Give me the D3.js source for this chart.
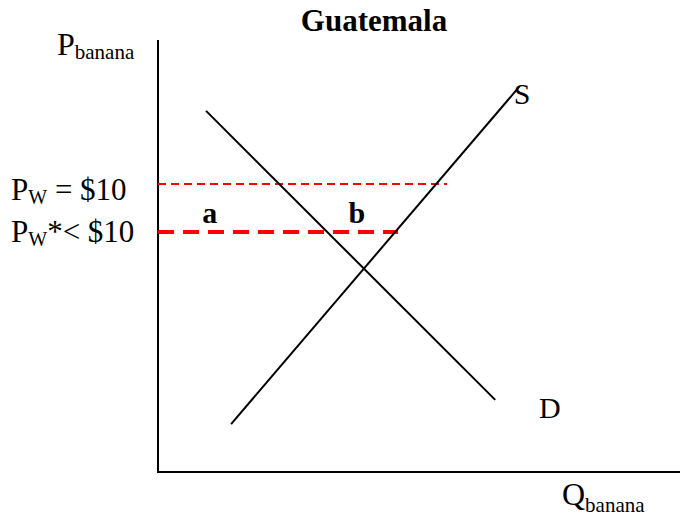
<!DOCTYPE html>
<html>
<head>
<meta charset="utf-8">
<script src="https://cdn.jsdelivr.net/npm/d3@7"></script>
<style>
  html, body { margin: 0; padding: 0; background: #fff; }
  svg { display: block; }
  text { font-family: "Liberation Serif", "Times New Roman", serif; fill: #000; }
</style>
</head>
<body>
<svg id="chart" width="681" height="519"></svg>
<script>
// ---- Data (abstract units, 0–100 on each axis) ----
const title = "Guatemala";
const supplyQ = [14.0, 69.3];
const supplyP = [11.1, 89.3];
const demandQ = [9.2, 64.6];
const demandP = [83.6, 16.7];
const priceLevels = [66.7, 55.6];          // Pw = $10, Pw* < $10
const priceEnds = [55.4, 46.0];            // where each dashed line stops (Q)
const priceLabelMain = ["P", "P"];
const priceLabelSub = ["W", "W"];
const priceLabelRest = [" = $10", "*< $10"];
const areaLabels = ["a", "b"];
const areaLabelQ = [8.5, 36.5];

const svg = d3.select("#chart");
const x = d3.scaleLinear().domain([0, 100]).range([158, 680]);
const y = d3.scaleLinear().domain([0, 100]).range([472, 40]);

// Axes (bare lines)
svg.append("line").attr("x1", x(0)).attr("x2", x(0)).attr("y1", y(100)).attr("y2", y(0))
  .attr("stroke", "#000").attr("stroke-width", 2);
svg.append("line").attr("x1", x(0) - 1).attr("x2", x(100)).attr("y1", y(0)).attr("y2", y(0))
  .attr("stroke", "#000").attr("stroke-width", 2);

const line = d3.line().x(d => x(d[0])).y(d => y(d[1]));

// Price lines
const dashStyles = [{w: 2, dash: "8,5"}, {w: 4, dash: "16,9"}];
priceLevels.forEach((p, i) => {
  svg.append("path").attr("d", line([[0, p], [priceEnds[i], p]]))
    .attr("stroke", "#ff0000").attr("stroke-width", dashStyles[i].w)
    .attr("stroke-dasharray", dashStyles[i].dash).attr("fill", "none")
    .attr("shape-rendering", "crispEdges");
});

// Supply and demand
svg.append("path").attr("d", line(d3.zip(supplyQ, supplyP)))
  .attr("stroke", "#000").attr("stroke-width", 2).attr("fill", "none");
svg.append("path").attr("d", line(d3.zip(demandQ, demandP)))
  .attr("stroke", "#000").attr("stroke-width", 2).attr("fill", "none");

// Title
svg.append("text").attr("x", 374).attr("y", 31).attr("text-anchor", "middle")
  .attr("font-size", 31).attr("font-weight", "bold").text(title);

// Axis labels
const pl = svg.append("text").attr("x", 57).attr("y", 55).attr("font-size", 32);
pl.append("tspan").text("P");
pl.append("tspan").attr("font-size", 21).attr("dy", 4).text("banana");

const ql = svg.append("text").attr("x", 562).attr("y", 505).attr("font-size", 32);
ql.append("tspan").text("Q");
ql.append("tspan").attr("font-size", 21).attr("dy", 7).text("banana");

// Curve labels
svg.append("text").attr("x", x(supplyQ[1]) - 6).attr("y", y(supplyP[1]) + 18)
  .attr("font-size", 30).text("S");
svg.append("text").attr("x", 539).attr("y", 418).attr("font-size", 30).text("D");

// Price labels
const offs = [16, 10];
priceLevels.forEach((p, i) => {
  const t = svg.append("text").attr("x", 11).attr("y", y(p) + offs[i]).attr("font-size", 31);
  t.append("tspan").text(priceLabelMain[i]);
  t.append("tspan").attr("font-size", 20).attr("dy", 4).text(priceLabelSub[i]);
  t.append("tspan").attr("dy", -4).text(priceLabelRest[i]);
});

// Area labels
areaLabels.forEach((a, i) => {
  svg.append("text").attr("x", x(areaLabelQ[i])).attr("y", 223)
    .attr("font-size", 30).attr("font-weight", "bold").text(a);
});
</script>
</body>
</html>
